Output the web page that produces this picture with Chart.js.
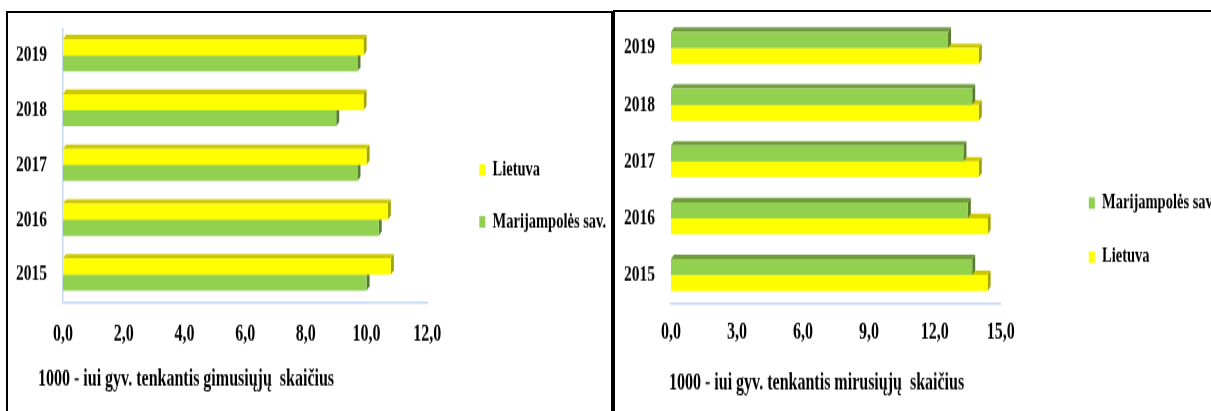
<!DOCTYPE html>
<html lang="lt">
<head>
<meta charset="utf-8">
<title>Gimusiųjų ir mirusiųjų skaičius 1000-iui gyventojų</title>
<script src="https://cdn.jsdelivr.net/npm/chart.js@4.4.1/dist/chart.umd.min.js"></script>
<style>
  html, body { margin: 0; padding: 0; background: #fff; width: 1211px; height: 411px; overflow: hidden; }
  .panel { position: absolute; box-sizing: border-box; border: 2px solid #000; border-bottom: none; height: 430px; }
  #leftPanel { left: 6px; top: 11px; width: 607px; }
  #rightPanel { left: 613px; top: 10px; width: 640px; }
  /* the original charts are squeezed sideways, so draw short and stretch tall */
  .box { position: absolute; transform: scaleY(1.45); transform-origin: 0 0; }
  #birthsBox { left: 8px; top: 13px; width: 600px; height: 267px; }
  #deathsBox { left: 616px; top: 11px; width: 600px; height: 271px; }
</style>
</head>
<body>
<div class="panel" id="leftPanel"></div>
<div class="panel" id="rightPanel"></div>
<div class="box" id="birthsBox"><canvas id="births"></canvas></div>
<div class="box" id="deathsBox"><canvas id="deaths"></canvas></div>
<script>
const years = ['2019', '2018', '2017', '2016', '2015'];

const birthsLietuva = [9.9, 9.9, 10.0, 10.7, 10.8];
const birthsMarijampole = [9.7, 9.0, 9.7, 10.4, 10.0];
const birthTicks = [0, 2, 4, 6, 8, 10, 12];

const deathsMarijampole = [12.6, 13.7, 13.3, 13.5, 13.7];
const deathsLietuva = [14.0, 14.0, 14.0, 14.4, 14.4];
const deathTicks = [0, 3, 6, 9, 12, 15];

const FONT = "'Liberation Serif', 'Times New Roman', serif";
const LIGHT_BLUE = '#c6d9f1';

const yellow = {backgroundColor: '#ffff00', topColor: '#ccc800', sideColor: '#a3a300'};
const green = {backgroundColor: '#92d050', topColor: '#6f9b3d', sideColor: '#577d30'};

// fake 3D: top and right faces behind every bar
const depth = {
    id: 'depth',
    beforeDatasetsDraw(chart, args, opts) {
        const ctx = chart.ctx;
        ctx.save();
        for (let i = chart.data.datasets.length - 1; i >= 0; i--) {
            const ds = chart.data.datasets[i];
            chart.getDatasetMeta(i).data.forEach(bar => {
                const top = bar.y - bar.height / 2;
                const bottom = bar.y + bar.height / 2;
                ctx.fillStyle = ds.topColor;
                ctx.beginPath();
                ctx.moveTo(bar.base, top);
                ctx.lineTo(bar.base + opts.dx, top - opts.dy);
                ctx.lineTo(bar.x + opts.dx, top - opts.dy);
                ctx.lineTo(bar.x, top);
                ctx.closePath();
                ctx.fill();
                ctx.fillStyle = ds.sideColor;
                ctx.beginPath();
                ctx.moveTo(bar.x, top);
                ctx.lineTo(bar.x + opts.dx, top - opts.dy);
                ctx.lineTo(bar.x + opts.dx, bottom - opts.dy);
                ctx.lineTo(bar.x, bottom);
                ctx.closePath();
                ctx.fill();
            });
        }
        ctx.restore();
    }
};

function barChart(place, {datasets, ticks, caption, layout, yWidth, yBorder, xHeight, tickPadding,
                          captionPadding, gapWidth, legendPadding, legendSpacer, thickness}) {
    return new Chart(place, {
        type: 'bar',
        data: {labels: years, datasets},
        plugins: [depth],
        options: {
            indexAxis: 'y',
            animation: false,
            responsive: true,
            maintainAspectRatio: false,
            layout: {padding: layout},
            datasets: {bar: {categoryPercentage: thickness, barPercentage: 1, borderWidth: 0}},
            scales: {
                x: {
                    min: ticks[0],
                    max: ticks[ticks.length - 1],
                    grid: {display: false, drawTicks: false},
                    border: {display: true, color: LIGHT_BLUE, width: 1.4},
                    ticks: {
                        stepSize: ticks[1] - ticks[0],
                        padding: tickPadding,
                        color: '#000',
                        font: {family: FONT, size: 16, weight: 'bold'},
                        callback: v => v.toFixed(1).replace('.', ',')
                    },
                    afterFit: s => { s.height = xHeight; }
                },
                y: {
                    grid: {display: false, drawTicks: false},
                    border: {display: yBorder, color: LIGHT_BLUE, width: 1.5},
                    // years sit out in the left margin, left-aligned at x = 8
                    ticks: {
                        mirror: true,
                        padding: 8 - layout.left - yWidth,
                        color: '#000',
                        font: {family: FONT, size: 15.5, weight: 'bold'}
                    },
                    afterFit: s => { s.width = yWidth; }
                },
                // empty strip between the bars and the legend
                gap: {
                    type: 'category',
                    axis: 'y',
                    position: 'right',
                    grid: {display: false, drawTicks: false},
                    border: {display: false},
                    ticks: {display: false},
                    afterFit: s => { s.width = gapWidth; }
                }
            },
            plugins: {
                depth: {dx: 3, dy: 3.1},
                tooltip: {enabled: false},
                legend: {
                    position: 'right',
                    align: 'start',
                    maxWidth: 150,
                    title: {display: true, text: '', font: {size: 10}, padding: {top: 0, bottom: legendSpacer}},
                    labels: {
                        boxWidth: 6,
                        boxHeight: 8,
                        padding: legendPadding,
                        color: '#000',
                        font: {family: FONT, size: 14.5, weight: 'bold'}
                    }
                },
                title: {
                    display: true,
                    position: 'bottom',
                    align: 'start',
                    text: caption,
                    color: '#000',
                    font: {family: FONT, size: 16, weight: 'bold'},
                    padding: {top: 0, bottom: captionPadding}
                }
            }
        }
    });
}

barChart(document.querySelector('#births'), {
    datasets: [
        {label: 'Lietuva', data: birthsLietuva, ...yellow},
        {label: 'Marijampolės sav.', data: birthsMarijampole, ...green}
    ],
    ticks: birthTicks,
    caption: '1000 - iui gyv. tenkantis gimusiųjų  skaičius',
    layout: {left: 30, top: 10.3, right: 0, bottom: 0},
    yWidth: 25,
    yBorder: true,
    xHeight: 44.1,
    tickPadding: 13.1,
    captionPadding: 4.4,
    gapWidth: 30.7,
    legendPadding: 21.3,
    legendSpacer: 57.45,
    thickness: 0.585
});

barChart(document.querySelector('#deaths'), {
    datasets: [
        {label: 'Marijampolės sav.', data: deathsMarijampole, ...green},
        {label: 'Lietuva', data: deathsLietuva, ...yellow}
    ],
    ticks: deathTicks,
    caption: '1000 - iui gyv. tenkantis mirusiųjų  skaičius',
    layout: {left: 53, top: 5.9, right: 0, bottom: 0},
    yWidth: 2,
    yBorder: false,
    xHeight: 45.9,
    tickPadding: 10.8,
    captionPadding: 4.2,
    gapWidth: 65.2,
    legendPadding: 22.8,
    legendSpacer: 84.45,
    thickness: 0.565
});
</script>
</body>
</html>
